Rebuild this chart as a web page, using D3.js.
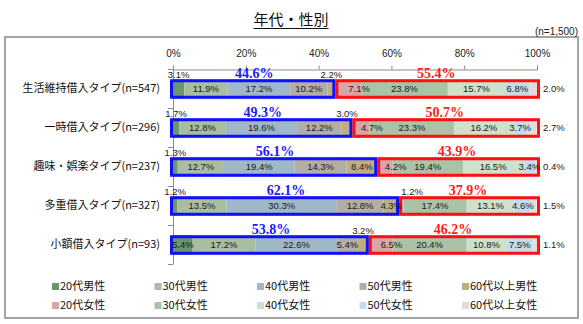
<!DOCTYPE html>
<html>
<head>
<meta charset="utf-8">
<script src="https://cdn.jsdelivr.net/npm/d3@7"></script>
<style>
  html, body { margin: 0; padding: 0; background: #fff; }
  svg { display: block; }
</style>
</head>
<body>
<svg id="chart" width="583" height="324"></svg>
<script>
// Borrower types (rows) and sample sizes
const categories = [
  "生活維持借入タイプ(n=547)",
  "一時借入タイプ(n=296)",
  "趣味・娯楽タイプ(n=237)",
  "多重借入タイプ(n=327)",
  "小額借入タイプ(n=93)"
];

// Age / gender groups, in stacking order
const seriesNames = [
  "20代男性", "30代男性", "40代男性", "50代男性", "60代以上男性",
  "20代女性", "30代女性", "40代女性", "50代女性", "60代以上女性"
];

// Shares (%) per row, one array per group
const m20 = [3.1, 1.7, 1.3, 1.2, 5.4];
const m30 = [11.9, 12.8, 12.7, 13.5, 17.2];
const m40 = [17.2, 19.6, 19.4, 30.3, 22.6];
const m50 = [10.2, 12.2, 14.3, 12.8, 5.4];
const m60 = [2.2, 3.0, 8.4, 4.3, 3.2];
const f20 = [7.1, 4.7, 4.2, 1.2, 6.5];
const f30 = [23.8, 23.3, 19.4, 17.4, 20.4];
const f40 = [15.7, 16.2, 16.5, 13.1, 10.8];
const f50 = [6.8, 3.7, 3.4, 4.6, 7.5];
const f60 = [2.0, 2.7, 0.4, 1.5, 1.1];

// Male / female subtotals (%)
const maleTotal = [44.6, 49.3, 56.1, 62.1, 53.8];
const femaleTotal = [55.4, 50.7, 43.9, 37.9, 46.2];

const xTicks = [0, 20, 40, 60, 80, 100];

const colors = [
  "#6b956a", "#a9bea0", "#9fb7c6", "#b3ada3", "#bfae84",
  "#d9a5a8", "#aac3a6", "#cfe1cb", "#c6dde9", "#e1dbdb"
];

const seriesValues = [m20, m30, m40, m50, m60, f20, f30, f40, f50, f60];
const table = categories.map((c, i) => {
  const row = { category: c };
  seriesNames.forEach((s, k) => { row[s] = seriesValues[k][i]; });
  return row;
});

const svg = d3.select("#chart");
const fontJP = "'Noto Sans CJK JP', 'Noto Sans', sans-serif";
const fontNum = "'Liberation Sans', Arial, sans-serif";

// Outer frame
svg.append("rect")
  .attr("x", 5).attr("y", 37).attr("width", 573).attr("height", 281)
  .attr("fill", "none").attr("stroke", "#a3a3a3").attr("stroke-width", 2);

// Title with underline
const title = svg.append("text")
  .attr("x", 291).attr("y", 25)
  .attr("text-anchor", "middle")
  .attr("font-family", fontJP).attr("font-size", 15)
  .attr("fill", "#111")
  .text("年代・性別");
const tw = title.node().getComputedTextLength();
svg.append("line")
  .attr("x1", 291 - tw / 2).attr("x2", 291 + tw / 2)
  .attr("y1", 28.5).attr("y2", 28.5)
  .attr("stroke", "#111").attr("stroke-width", 1);

svg.append("text")
  .attr("x", 578).attr("y", 35)
  .attr("text-anchor", "end")
  .attr("font-family", fontNum).attr("font-size", 10)
  .attr("fill", "#222")
  .text("(n=1,500)");

// Scales
const x = d3.scaleLinear().domain([0, 100]).range([173, 537]);
const y = d3.scaleBand().domain(categories).range([69.5, 264.5])
  .paddingInner(0.5).paddingOuter(0.25);

// Top percentage axis
const xAxis = svg.append("g")
  .attr("transform", "translate(0,69.5)")
  .call(d3.axisTop(x).tickValues(xTicks).tickSize(4).tickFormat(d => d + "%"));
xAxis.select(".domain").attr("stroke", "#8c8c8c");
xAxis.selectAll(".tick line").attr("stroke", "#8c8c8c");
xAxis.selectAll(".tick text")
  .attr("font-family", fontNum).attr("font-size", 10)
  .attr("fill", "#222").attr("dy", "-0.6em");

// Left category axis with ticks at the band boundaries
const y0 = y.range()[0];
svg.append("line")
  .attr("x1", x(0) + 0.5).attr("x2", x(0) + 0.5)
  .attr("y1", y0).attr("y2", y.range()[1])
  .attr("stroke", "#8c8c8c");
d3.range(categories.length + 1).forEach(i => {
  const yy = y0 + i * y.step() * ((y.range()[1] - y0) / (y.step() * categories.length));
  svg.append("line")
    .attr("x1", x(0) - 5).attr("x2", x(0))
    .attr("y1", yy).attr("y2", yy)
    .attr("stroke", "#8c8c8c");
});

svg.append("g").selectAll("text")
  .data(categories).join("text")
  .attr("x", 160)
  .attr("y", d => y(d) + y.bandwidth() / 2 - 1)
  .attr("dy", "0.35em")
  .attr("text-anchor", "end")
  .attr("font-family", fontJP).attr("font-size", 11)
  .attr("fill", "#111")
  .text(d => d);

// Stacked segments
const stack = d3.stack().keys(seriesNames);
const layers = stack(table);

const gBars = svg.append("g");
layers.forEach((layer, k) => {
  gBars.selectAll(null)
    .data(layer).join("rect")
    .attr("x", d => x(d[0]))
    .attr("width", d => x(d[1]) - x(d[0]))
    .attr("y", d => y(d.data.category))
    .attr("height", y.bandwidth())
    .attr("fill", colors[k]);
});

// Male / female outline boxes
const gBox = svg.append("g").attr("fill", "none").attr("stroke-width", 3);
categories.forEach((c, i) => {
  const top = y(c) + 1.5, h = y.bandwidth() - 3;
  gBox.append("rect")
    .attr("x", x(0) - 1.5).attr("y", top)
    .attr("width", x(maleTotal[i]) - x(0))
    .attr("height", h)
    .attr("stroke", "#1010ff");
  gBox.append("rect")
    .attr("x", x(maleTotal[i]) + 1.5).attr("y", top)
    .attr("width", x(maleTotal[i] + femaleTotal[i]) - x(maleTotal[i]))
    .attr("height", h)
    .attr("stroke", "#ff1010");
});

// Segment value labels
const gLab = svg.append("g")
  .attr("font-family", fontNum).attr("font-size", 9.5).attr("fill", "#1a1a1a");
layers.forEach((layer, k) => {
  layer.forEach(d => {
    const v = d[1] - d[0];
    const label = d.data[seriesNames[k]].toFixed(1) + "%";
    const cx = (x(d[0]) + x(d[1])) / 2;
    const top = y(d.data.category);
    const t = gLab.append("text").text(label);
    if (k === seriesNames.length - 1) {
      // last group sits to the right of the bar
      t.attr("x", 543).attr("y", top + y.bandwidth() / 2).attr("dy", "0.35em");
    } else if (v < 3.3) {
      t.attr("y", top - 1)
        .attr("x", k === 5 ? cx : cx)
        .attr("text-anchor", k === 5 ? "start" : "middle");
    } else {
      t.attr("y", top + y.bandwidth() / 2).attr("dy", "0.35em")
        .attr("x", cx)
        .attr("text-anchor", k === 5 ? "start" : "middle");
    }
  });
});

// Subtotal labels above each box
const gTot = svg.append("g")
  .attr("font-family", "'Liberation Serif', 'Times New Roman', serif")
  .attr("font-size", 14).attr("font-weight", "bold")
  .attr("text-anchor", "middle");
categories.forEach((c, i) => {
  const base = y(c) - 1.5;
  gTot.append("text")
    .attr("x", (x(0) + x(maleTotal[i])) / 2).attr("y", base)
    .attr("fill", "#1a1aff")
    .text(maleTotal[i].toFixed(1) + "%");
  gTot.append("text")
    .attr("x", (x(maleTotal[i]) + x(maleTotal[i] + femaleTotal[i])) / 2).attr("y", base)
    .attr("fill", "#ff1a1a")
    .text(femaleTotal[i].toFixed(1) + "%");
});

// Legend: two rows (male / female), five columns
const legend = svg.append("g")
  .attr("font-family", fontJP).attr("font-size", 11).attr("fill", "#111");
seriesNames.forEach((s, k) => {
  const col = k % 5, row = Math.floor(k / 5);
  const lx = 52 + col * 102.5, ly = 286 + row * 19;
  legend.append("rect")
    .attr("x", lx).attr("y", ly - 3).attr("width", 7).attr("height", 7)
    .attr("fill", colors[k]);
  legend.append("text")
    .attr("x", lx + 8).attr("y", ly).attr("dy", "0.35em")
    .text(s);
});
</script>
</body>
</html>
